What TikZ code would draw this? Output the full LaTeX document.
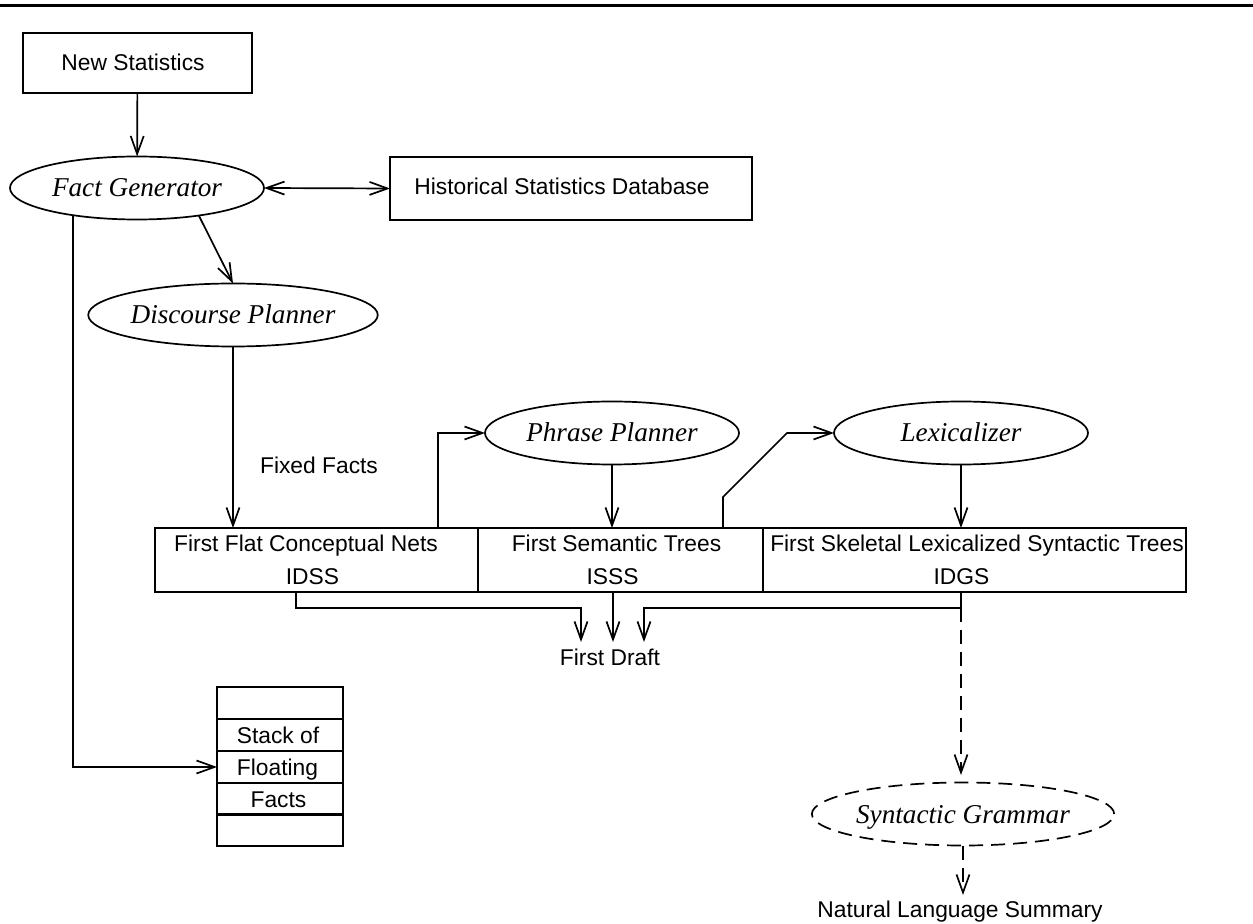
\documentclass[tikz,border=0pt]{standalone}
\usepackage{fontspec}
\setmainfont{Liberation Serif}
\setsansfont{Liberation Sans}
\usetikzlibrary{shapes.geometric,arrows.meta}
\begin{document}
\begin{tikzpicture}[x=0.5pt,y=-0.5pt,
  every node/.style={inner sep=0pt,outer sep=0pt},
  arr/.style={line width=0.85pt,-{Straight Barb[length=9pt,width=6.5pt]}},
  darr/.style={line width=0.85pt,{Straight Barb[length=9pt,width=6.5pt]}-{Straight Barb[length=9pt,width=6.5pt]}},
  box/.style={draw,line width=0.85pt,rectangle},
  proc/.style={draw,line width=0.85pt,ellipse,minimum width=127pt,minimum height=31.5pt,
    text height=9pt,text depth=0pt,font=\fontsize{13.6}{16}\selectfont\itshape},
  lbl/.style={anchor=base,font=\fontsize{11.4}{13.7}\selectfont\sffamily},
  dsh/.style={dash pattern=on 7pt off 4pt}
]
\useasboundingbox (0,0) rectangle (1253,924);
\draw[line width=1.8pt] (0,5.5) -- (1253,5.5);

% boxes
\node[box,minimum width=114.5pt,minimum height=30pt] (ns) at (137.5,63) {};
\node[box,minimum width=181pt,minimum height=31.5pt] (hs) at (571,188.5) {};
\node[box,minimum width=161.5pt,minimum height=32pt] (b1) at (316.5,560) {};
\node[box,minimum width=142.5pt,minimum height=32pt] (b2) at (620.5,560) {};
\node[box,minimum width=211.5pt,minimum height=32pt] (b3) at (974.5,560) {};

% ellipses
\node[proc] (fg) at (137,188) {Fact Generator};
\node[proc] (dp) at (233,315) {Discourse Planner};
\node[proc] (pp) at (612,433) {Phrase Planner};
\node[proc] (lx) at (961,433) {Lexicalizer};
\node[proc,dsh] (sg) at (963,814) {Syntactic Grammar};

% labels
\node[lbl] (tns) at (133,71) {New Statistics};
\node[lbl] (ths) at (562,195) {Historical Statistics Database};
\node[lbl] (ff) at (319,474) {Fixed Facts};
\node[lbl] (t1a) at (306,552) {First Flat Conceptual Nets};
\node[lbl] (t1b) at (312.5,585) {IDSS};
\node[lbl] (t2a) at (616.5,552) {First Semantic Trees};
\node[lbl] (t2b) at (612.5,585) {ISSS};
\node[lbl] (t3a) at (977,552) {First Skeletal Lexicalized Syntactic Trees};
\node[lbl] (t3b) at (961.5,585) {IDGS};
\node[lbl] (fd) at (610,666) {First Draft};
\node[lbl] (nls) at (960,917) {Natural Language Summary};

% stack
\foreach \i/\y in {0/703,1/735,2/767,3/799,4/830}{
  \node[box,minimum width=63pt,minimum height=16pt] (st\i) at (280,\y) {};
}
\node[lbl] (s1) at (278,743) {Stack of};
\node[lbl] (s2) at (277.5,775) {Floating};
\node[lbl] (s3) at (278.5,807) {Facts};

% helper coordinates
\coordinate (c1) at (438,528);
\coordinate (c2) at (723,528);
\coordinate (k2) at (723,497);
\coordinate (k3) at (787,433);
\coordinate (o1) at (296,592);
\coordinate (o2) at (613,592);
\coordinate (o3) at (961,592);
\coordinate (j3) at (961,608);
\coordinate (e1) at (581,642);
\coordinate (e2) at (613,642);
\coordinate (e3) at (644,642);
\coordinate (g1) at (961,775);
\coordinate (g2) at (963,895);

% connectors
\draw[arr] (ns) -- (fg);
\draw[darr] (fg.east) -- (hs.west);
\draw[arr] (fg.-24) -- (dp.north);
\draw[arr] (dp.south) -- (dp.south |- b1.north);
\draw[arr] (fg.-157) |- (st2.west);
\draw[arr] (c1) |- (pp.west);
\draw[arr] (pp.south) -- (pp.south |- b2.north);
\draw[arr] (c2) -- (k2) -- (k3) -- (lx.west);
\draw[arr] (lx.south) -- (lx.south |- b3.north);
\draw[arr] (o1) |- (e1 |- j3) -- (e1);
\draw[arr] (o2) -- (e2);
\draw[arr] (o3) -- (j3) -| (e3);
\draw[arr,dsh] (j3) -- (g1);
\draw[arr,dsh] (sg.south) -- (g2);
\end{tikzpicture}
\end{document}
